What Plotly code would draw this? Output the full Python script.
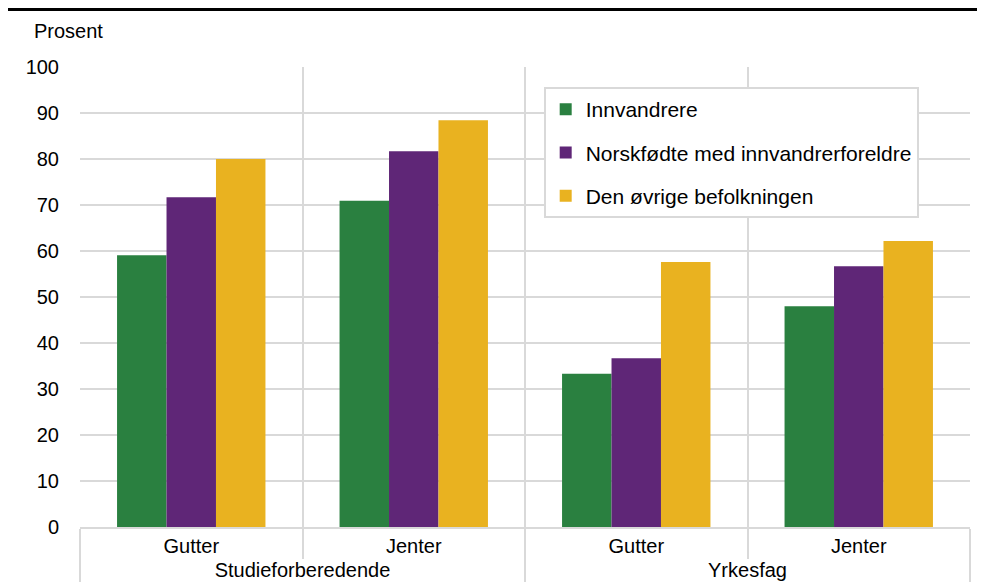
import plotly.graph_objects as go

programmes = ["Studieforberedende", "Studieforberedende", "Yrkesfag", "Yrkesfag"]
genders = ["Gutter", "Jenter", "Gutter", "Jenter"]
series_names = ["Innvandrere", "Norskfødte med innvandrerforeldre", "Den øvrige befolkningen"]
innvandrere = [59.1, 70.9, 33.3, 48.0]
norskfodte = [71.7, 81.7, 36.7, 56.7]
ovrige = [80.0, 88.4, 57.6, 62.2]
colors = ["#2a8040", "#5f2677", "#e9b220"]
y_ticks = list(range(0, 101, 10))

fig = go.Figure()
for name, vals, col in zip(series_names, [innvandrere, norskfodte, ovrige], colors):
    fig.add_trace(go.Bar(x=[programmes, genders], y=vals, name=name, marker=dict(color=col, line=dict(width=0)),
                         legendgroup=name))

font = dict(family="Liberation Sans, Arial, sans-serif", size=20, color="#000000")
grid = "#d9d9d9"

# page body has an 8px margin, margins are shifted to compensate
fig.update_layout(
    width=985, height=586, barmode="group", bargap=0.333, bargroupgap=0,
    plot_bgcolor="white", paper_bgcolor="white", font=font,
    margin=dict(l=72, r=23, t=59, b=67, autoexpand=False),
    showlegend=True,
    legend=dict(x=0.521, y=0.9565, xanchor="left", yanchor="top", bgcolor="white", bordercolor=grid, borderwidth=2,
                font=dict(size=21), tracegroupgap=13, itemwidth=30),
    xaxis=dict(type="multicategory", tickson="boundaries", showgrid=True, gridcolor=grid, gridwidth=2,
               ticks="outside", ticklen=30, tickcolor=grid, tickwidth=2, showdividers=True, dividercolor=grid,
               dividerwidth=2, showline=True, linecolor=grid, linewidth=2, tickfont=font, automargin=False),
    yaxis=dict(range=[0, 100], tickvals=y_ticks, showgrid=True, gridcolor=grid, gridwidth=2, zeroline=False,
               showline=False, ticklabelstandoff=20, tickfont=font, automargin=False),
    shapes=[dict(type="line", xref="paper", yref="paper", x0=-0.1, x1=1.05, y0=1.126, y1=1.126,
                 line=dict(color="black", width=4))],
    annotations=[dict(text="Prosent", xref="paper", yref="paper", x=-0.054, y=1.078, xanchor="left",
                      yanchor="middle", showarrow=False, font=font)],
)

fig.write_html("out.html")
